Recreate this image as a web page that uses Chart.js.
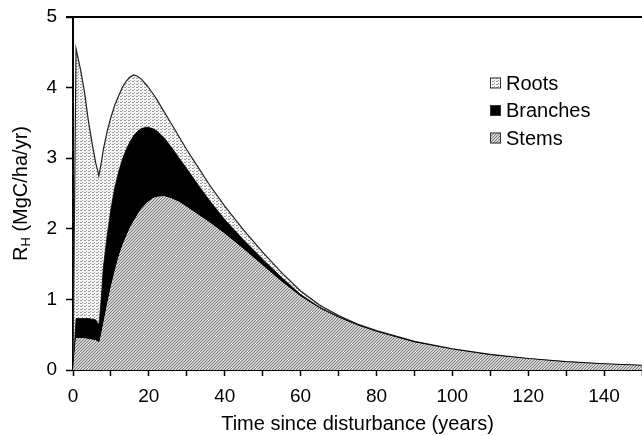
<!DOCTYPE html>
<html>
<head>
<meta charset="utf-8">
<script src="https://cdn.jsdelivr.net/npm/chart.js@4/dist/chart.umd.min.js"></script>
<style>
  html, body { margin: 0; padding: 0; background: #fff; }
  #wrap { width: 642px; height: 436px; position: relative; }
</style>
</head>
<body>
<div id="wrap"><canvas id="chart"></canvas></div>
<script>
// years since disturbance
const years = [0, 0.8, 2, 3, 4, 5, 6, 6.5, 6.8, 7, 7.5, 8, 9, 10, 11, 12, 13, 14, 15, 16, 17, 18, 19.5,
  21, 22, 24, 26, 28, 30, 33, 36, 40, 45, 50, 55, 60, 65, 70, 75, 80, 90, 100, 110, 120, 130, 140, 150];

// RH by pool (MgC/ha/yr), stacked stems -> branches -> roots
const stems = [0, 0.45, 0.45, 0.45, 0.44, 0.43, 0.42, 0.40, 0.39, 0.40, 0.52, 0.66, 0.93, 1.18, 1.40, 1.60, 1.76, 1.89, 2.01, 2.11, 2.20, 2.28, 2.37,
  2.43, 2.45, 2.46, 2.43, 2.38, 2.31, 2.20, 2.09, 1.93, 1.71, 1.48, 1.25, 1.04, 0.87, 0.74, 0.63, 0.54, 0.39, 0.29, 0.21, 0.155, 0.11, 0.08, 0.06];
const branches = [0, 0.28, 0.28, 0.28, 0.29, 0.29, 0.29, 0.26, 0.25, 0.32, 0.53, 0.79, 0.97, 1.10, 1.18, 1.20, 1.22, 1.23, 1.22, 1.21, 1.18, 1.14, 1.07,
  0.99, 0.94, 0.83, 0.72, 0.62, 0.54, 0.42, 0.31, 0.20, 0.13, 0.09, 0.06, 0.03, 0.02, 0.015, 0.01, 0.01, 0.01, 0.005, 0.005, 0.005, 0.005, 0.005, 0.003];
const roots = [0, 3.82, 3.52, 3.22, 2.82, 2.50, 2.22, 2.17, 2.11, 2.08, 1.90, 1.67, 1.48, 1.30, 1.17, 1.08, 1.02, 0.97, 0.92, 0.86, 0.78, 0.70, 0.59,
  0.50, 0.45, 0.37, 0.33, 0.30, 0.27, 0.25, 0.22, 0.19, 0.14, 0.10, 0.07, 0.05, 0.03, 0.015, 0.01, 0.01, 0.005, 0.005, 0.005, 0.003, 0.003, 0.002, 0.002];

const xTicks = [0, 20, 40, 60, 80, 100, 120, 140];
const yTicks = [0, 1, 2, 3, 4, 5];

const FONT = '"Liberation Sans", Arial, sans-serif';

function makePattern(w, h, bg, fg, pixels) {
  const c = document.createElement('canvas');
  c.width = w; c.height = h;
  const g = c.getContext('2d');
  g.fillStyle = bg;
  g.fillRect(0, 0, w, h);
  g.fillStyle = fg;
  pixels.forEach(p => g.fillRect(p[0], p[1], p[2] || 1, p[3] || 1));
  return g.createPattern(c, 'repeat');
}

const ctx = document.getElementById('chart').getContext('2d');
// fine diagonal hatch for stems, dotted dashes for roots
const stemsFill = makePattern(3, 3, '#d4d4d4', '#7a7a7a', [[0, 2], [1, 1], [2, 0]]);
const rootsFill = makePattern(4, 3, '#f6f6f6', '#9a9a9a', [[0, 0, 2, 1], [2, 2, 1, 1]]);

const toPoints = arr => arr.map((v, i) => ({ x: years[i], y: v }));

const legendItems = [
  { label: 'Roots', fill: rootsFill },
  { label: 'Branches', fill: '#000' },
  { label: 'Stems', fill: stemsFill }
];

const extras = {
  id: 'extras',
  afterDraw(chart) {
    const c = chart.ctx;
    const a = chart.chartArea;
    c.save();
    // top frame line
    c.strokeStyle = '#000';
    c.lineWidth = 2;
    c.beginPath();
    c.moveTo(a.left - 7, a.top);
    c.lineTo(a.right, a.top);
    c.stroke();

    // legend
    c.font = '20px ' + FONT;
    c.textBaseline = 'middle';
    legendItems.forEach((it, i) => {
      const cy = 83 + i * 27.5;
      c.fillStyle = it.fill;
      c.fillRect(490, cy - 5.5, 11, 11);
      c.strokeStyle = '#333';
      c.lineWidth = 1;
      c.strokeRect(490.5, cy - 5, 10, 10);
      c.fillStyle = '#000';
      c.fillText(it.label, 506, cy + 1);
    });

    // y axis title with subscript H
    c.translate(21, (a.top + a.bottom) / 2);
    c.rotate(-Math.PI / 2);
    const big = '20px ' + FONT, small = '13px ' + FONT;
    c.font = big;
    const wR = c.measureText('R').width;
    const rest = ' (MgC/ha/yr)';
    const wRest = c.measureText(rest).width;
    c.font = small;
    const wH = c.measureText('H').width;
    const x0 = -(wR + wH + wRest) / 2;
    c.font = big;
    c.fillText('R', x0, 0);
    c.font = small;
    c.fillText('H', x0 + wR, 5);
    c.font = big;
    c.fillText(rest, x0 + wR + wH, 0);
    c.restore();
  }
};

new Chart(ctx, {
  type: 'line',
  data: {
    datasets: [
      {
        label: 'Stems',
        data: toPoints(stems),
        backgroundColor: stemsFill,
        borderColor: 'rgba(0,0,0,0)',
        borderWidth: 0,
        fill: 'origin'
      },
      {
        label: 'Branches',
        data: toPoints(branches),
        backgroundColor: '#000',
        borderColor: '#000',
        borderWidth: 0.8,
        fill: '-1'
      },
      {
        label: 'Roots',
        data: toPoints(roots),
        backgroundColor: rootsFill,
        borderColor: '#222',
        borderWidth: 1.2,
        fill: '-1'
      }
    ]
  },
  options: {
    responsive: true,
    maintainAspectRatio: false,
    animation: false,
    layout: { padding: { top: 17, right: 0, left: 0, bottom: 0 } },
    elements: {
      point: { radius: 0 },
      line: { tension: 0 }
    },
    scales: {
      x: {
        type: 'linear',
        min: 0,
        max: 150,
        afterFit: s => { s.height = 66; s.paddingRight = 0; s.paddingLeft = 0; },
        grid: { drawOnChartArea: false, tickLength: 6, tickColor: '#000', tickWidth: 1.5 },
        border: { color: '#000', width: 2 },
        ticks: {
          stepSize: 10,
          autoSkip: false,
          maxRotation: 0,
          padding: 9,
          color: '#000',
          font: { family: FONT, size: 19 },
          callback: v => xTicks.includes(v) ? String(v) : ''
        },
        title: {
          display: true,
          text: 'Time since disturbance (years)',
          color: '#000',
          font: { family: FONT, size: 20 },
          padding: { top: 6, bottom: 0 }
        }
      },
      y: {
        stacked: true,
        min: 0,
        max: 5,
        afterFit: s => { s.width = 73; s.paddingTop = 0; s.paddingBottom = 0; },
        grid: { drawOnChartArea: false, tickLength: 7, tickColor: '#000', tickWidth: 1.5 },
        border: { color: '#000', width: 2 },
        ticks: {
          stepSize: 1,
          padding: 9,
          color: '#000',
          font: { family: FONT, size: 19 },
          callback: v => yTicks.includes(v) ? String(v) : ''
        }
      }
    },
    plugins: {
      legend: { display: false },
      tooltip: { enabled: false }
    }
  },
  plugins: [extras]
});
</script>
</body>
</html>
